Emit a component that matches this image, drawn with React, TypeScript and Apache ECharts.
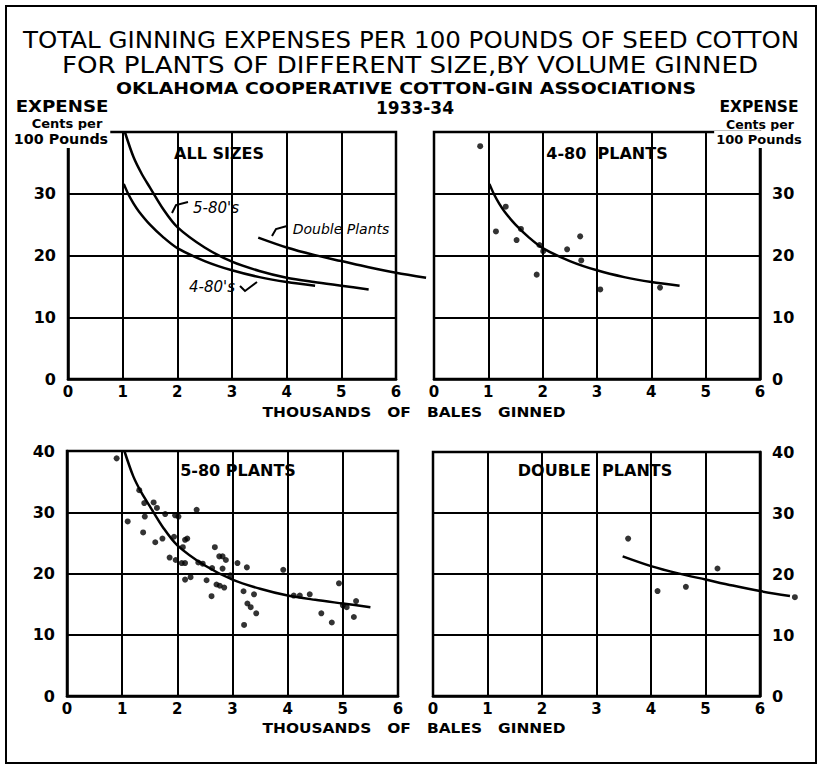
import React, { useEffect, useRef } from "react";
import * as echarts from "echarts";

// ---- data ----
const xTicks = [0, 1, 2, 3, 4, 5, 6];
const yTicks = [0, 10, 20, 30, 40];

// fitted curves (thousands of bales, cents per 100 lb)
const curve580X = [1.04, 1.2, 1.35, 1.5, 1.75, 2, 2.5, 3, 3.5, 4, 4.5, 5, 5.5];
const curve580Y = [40, 35.9, 33.2, 31.0, 27.4, 24.6, 21.3, 19.0, 17.5, 16.4, 15.7, 15.1, 14.5];

const curve480X = [1.02, 1.1, 1.2, 1.3, 1.5, 1.75, 2, 2.5, 3, 3.5, 4, 4.52];
const curve480Y = [31.6, 30.0, 28.4, 27.1, 25.0, 22.9, 21.2, 19.1, 17.6, 16.5, 15.7, 15.1];

const curveDblX = [3.48, 4, 4.5, 5, 5.5, 6, 6.55];
const curveDblY = [22.9, 21.3, 20.1, 19.1, 18.1, 17.2, 16.4];

// scatter points
const pts480X = [0.85, 1.32, 1.14, 1.6, 1.52, 1.94, 2.01, 1.89, 2.45, 2.69, 2.71, 3.06, 4.16];
const pts480Y = [37.7, 27.9, 23.9, 24.3, 22.5, 21.7, 20.7, 16.9, 21.0, 23.1, 19.2, 14.5, 14.8];

const pts580X = [0.9, 1.1, 1.31, 1.4, 1.41, 1.38, 1.57, 1.63, 1.6, 1.73, 1.78, 1.96, 2.02, 1.86, 1.94, 1.97,
  2.08, 2.14, 2.14, 2.18, 2.1, 2.14, 2.24, 2.35, 2.38, 2.46, 2.53, 2.62, 2.63, 2.68, 2.71, 2.77, 2.82, 2.76,
  2.82, 2.88, 2.85, 2.96, 3.09, 3.2, 3.21, 3.26, 3.27, 3.33, 3.39, 3.43, 3.92, 4.11, 4.22, 4.4, 4.61, 4.8,
  4.93, 5.0, 5.07, 5.2, 5.24];
const pts580Y = [38.8, 28.5, 33.6, 31.5, 29.3, 26.7, 31.6, 30.7, 25.1, 25.7, 29.7, 29.5, 29.3, 22.6, 26.0, 22.2,
  21.7, 21.7, 25.5, 25.7, 24.3, 19.0, 19.4, 30.4, 21.8, 21.6, 18.9, 16.3, 20.9, 24.3, 18.2, 18.0, 20.8, 22.8,
  22.8, 22.2, 17.7, 19.7, 21.7, 17.1, 11.6, 21.0, 15.1, 14.5, 16.6, 13.5, 20.6, 16.4, 16.4, 16.6, 13.5, 12.0,
  18.4, 14.8, 14.5, 12.9, 15.5];

const ptsDblX = [3.58, 4.12, 4.64, 5.22, 6.64];
const ptsDblY = [25.8, 17.2, 17.9, 20.9, 16.2];

const panelTitles = ["ALL SIZES", "4-80  PLANTS", "5-80 PLANTS", "DOUBLE  PLANTS"];

const zip = (xs: number[], ys: number[]) => xs.map((x, i) => [x, ys[i]]);

const FONT = "DejaVu Sans";

export default function App() {
  const ref = useRef<HTMLDivElement>(null);
  useEffect(() => {
    if (!ref.current) return;
    const chart = echarts.init(ref.current, null, { renderer: "svg" });

    const grids = [
      { left: 68, top: 132, width: 328, height: 247 },
      { left: 434, top: 132, width: 326, height: 247 },
      { left: 67, top: 451, width: 331, height: 245 },
      { left: 433, top: 452, width: 327, height: 244 },
    ].map((g) => ({ ...g, show: true, borderColor: "#000", borderWidth: 2.5, backgroundColor: "#fff" }));

    const xAxis = grids.map((_, i) => ({
      type: "value",
      gridIndex: i,
      min: 0,
      max: 6,
      interval: 1,
      axisLine: { show: true, onZero: false, lineStyle: { color: "#000", width: 2.5 } },
      axisTick: { show: false },
      splitLine: { show: true, lineStyle: { color: "#000", width: 2 } },
      axisLabel: {
        color: "#000",
        fontFamily: FONT,
        fontWeight: "bold",
        fontSize: 15,
        margin: 5,
        formatter: (v: number) => (xTicks.includes(v) ? String(v) : ""),
      },
    }));

    const yAxis = grids.map((_, i) => ({
      type: "value",
      gridIndex: i,
      min: 0,
      max: 40,
      interval: 10,
      position: i % 2 === 0 ? "left" : "right",
      axisLine: { show: true, onZero: false, lineStyle: { color: "#000", width: 2.5 } },
      axisTick: { show: false },
      splitLine: { show: true, lineStyle: { color: "#000", width: 2 } },
      axisLabel: {
        color: "#000",
        fontFamily: FONT,
        fontWeight: "bold",
        fontSize: 16,
        margin: 12,
        showMaxLabel: i >= 2,
        formatter: (v: number) => (yTicks.includes(v) ? String(v) : ""),
      },
    }));

    const line = (idx: number, xs: number[], ys: number[]) => ({
      type: "line",
      xAxisIndex: idx,
      yAxisIndex: idx,
      data: zip(xs, ys),
      smooth: 0.3,
      showSymbol: false,
      clip: false,
      lineStyle: { color: "#000", width: 2.5 },
      z: 5,
    });
    // custom curve so that it may run past the right edge of the panel, as in the original
    const freeCurve = (idx: number, xs: number[], ys: number[]) => ({
      type: "custom",
      xAxisIndex: idx,
      yAxisIndex: idx,
      clip: false,
      data: [[xs[0], ys[0]]],
      z: 5,
      renderItem: (_p: any, api: any) => ({
        type: "polyline",
        shape: { points: xs.map((x, i) => api.coord([x, ys[i]])), smooth: 0.3 },
        style: { stroke: "#000", lineWidth: 2.5, fill: "none" },
      }),
    });
    const scatter = (idx: number, xs: number[], ys: number[]) => ({
      type: "scatter",
      xAxisIndex: idx,
      yAxisIndex: idx,
      data: zip(xs, ys),
      symbol: "circle",
      symbolSize: 6,
      clip: false,
      itemStyle: { color: "#000" },
      z: 6,
    });

    const series = [
      line(0, curve580X, curve580Y),
      line(0, curve480X, curve480Y),
      freeCurve(0, curveDblX, curveDblY),
      line(1, curve480X, curve480Y),
      scatter(1, pts480X, pts480Y),
      line(2, curve580X, curve580Y),
      scatter(2, pts580X, pts580Y),
      freeCurve(3, curveDblX, curveDblY),
      scatter(3, ptsDblX, ptsDblY),
    ];

    const txt = (x: number, y: number, text: string, size: number, opts: any = {}, scaleX = 1) => ({
      type: "text",
      x,
      y,
      scaleX,
      z: 20,
      style: {
        text,
        fill: "#000",
        fontFamily: FONT,
        fontSize: size,
        fontWeight: "bold",
        align: "center",
        verticalAlign: "middle",
        ...opts,
      },
    });
    const bgWhite = { backgroundColor: "#fff", padding: [1, 2, 3, 2] };

    const graphic = [
      {
        type: "rect",
        shape: { x: 6, y: 6, width: 810, height: 757 },
        style: { fill: "none", stroke: "#000", lineWidth: 2 },
      },
      txt(411, 40, "TOTAL GINNING EXPENSES PER 100 POUNDS OF SEED COTTON", 22.5, { fontWeight: "normal" }, 1.09),
      txt(410, 65, "FOR PLANTS OF DIFFERENT SIZE,BY VOLUME GINNED", 22.5, { fontWeight: "normal" }, 1.16),
      txt(406, 89, "OKLAHOMA COOPERATIVE COTTON-GIN ASSOCIATIONS", 16, {}, 1.18),
      txt(415, 108, "1933-34", 17, {}),
      txt(62, 106.5, "EXPENSE", 16.5, {}, 1.1),
      txt(67, 123.5, "Cents per", 13),
      txt(61, 139, "100 Pounds", 13.5, bgWhite, 1.06),
      txt(759, 106.5, "EXPENSE", 15.5),
      txt(760, 124, "Cents per", 12.5),
      txt(759, 139.5, "100 Pounds", 13, bgWhite),
      txt(414, 412, "THOUSANDS   OF   BALES   GINNED", 14, {}, 1.1),
      txt(414, 728, "THOUSANDS   OF   BALES   GINNED", 14, {}, 1.1),
      txt(219, 153, panelTitles[0], 16),
      txt(607, 153, panelTitles[1], 16),
      txt(238, 470, panelTitles[2], 16),
      txt(595, 470, panelTitles[3], 16),
      txt(216, 208, "5-80's", 15, { fontStyle: "italic", fontWeight: "normal" }),
      txt(341, 229, "Double Plants", 14, { fontStyle: "italic", fontWeight: "normal" }),
      txt(212, 287, "4-80's", 15, { fontStyle: "italic", fontWeight: "normal" }),
      {
        type: "polyline",
        z: 20,
        shape: { points: [[172, 213], [176, 205], [188, 202]] },
        style: { stroke: "#000", lineWidth: 2, fill: "none" },
      },
      {
        type: "polyline",
        z: 20,
        shape: { points: [[272, 236], [276, 229], [287, 226]] },
        style: { stroke: "#000", lineWidth: 2, fill: "none" },
      },
      {
        type: "polyline",
        z: 20,
        shape: { points: [[240, 286], [245, 291], [257, 282]] },
        style: { stroke: "#000", lineWidth: 2, fill: "none" },
      },
    ];

    chart.setOption({
      animation: false,
      backgroundColor: "#fff",
      grid: grids,
      xAxis,
      yAxis,
      series,
      graphic,
    });
    return () => chart.dispose();
  }, []);

  return (
    <div
      ref={ref}
      style={{ position: "fixed", left: 0, top: 0, width: 821, height: 774, background: "#fff" }}
    />
  );
}
